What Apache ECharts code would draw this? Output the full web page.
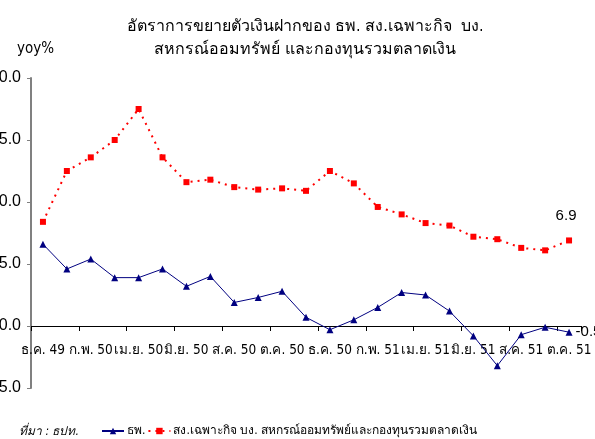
<!DOCTYPE html>
<html lang="th">
<head>
    <meta charset="UTF-8">
    <title>อัตราการขยายตัวเงินฝาก</title>
    <script src="https://cdn.jsdelivr.net/npm/echarts@6/dist/echarts.min.js"></script>
    <style>
        body { margin: 0; background: #fff; }
    </style>
</head>
<body>
<div id="main" style="width: 595px;height:439px;"></div>
<script type="text/javascript">
    var months = ['ธ.ค. 49','ม.ค. 50','ก.พ. 50','มี.ค. 50','เม.ย. 50','พ.ค. 50','มิ.ย. 50','ก.ค. 50',
        'ส.ค. 50','ก.ย. 50','ต.ค. 50','พ.ย. 50','ธ.ค. 50','ม.ค. 51','ก.พ. 51','มี.ค. 51','เม.ย. 51',
        'พ.ค. 51','มิ.ย. 51','ก.ค. 51','ส.ค. 51','ก.ย. 51','ต.ค. 51'];
    var bankGrowth = [6.6, 4.6, 5.4, 3.9, 3.9, 4.6, 3.2, 4.0, 1.9, 2.3, 2.8, 0.7,
        -0.3, 0.5, 1.5, 2.7, 2.5, 1.2, -0.8, -3.2, -0.7, -0.1, -0.5];
    var otherGrowth = [8.4, 12.5, 13.6, 15.0, 17.5, 13.6, 11.6, 11.8, 11.2, 11.0, 11.1, 10.9,
        12.5, 11.5, 9.6, 9.0, 8.3, 8.1, 7.2, 7.0, 6.3, 6.1, 6.9];
    var titleLines = ['อัตราการขยายตัวเงินฝากของ ธพ. สง.เฉพาะกิจ  บง.', 'สหกรณ์ออมทรัพย์ และกองทุนรวมตลาดเงิน'];
    var seriesNames = ['ธพ.', 'สง.เฉพาะกิจ บง. สหกรณ์ออมทรัพย์และกองทุนรวมตลาดเงิน'];

    var font = "'DejaVu Sans Condensed', 'Liberation Sans Narrow', sans-serif";
    var numFont = "'Liberation Sans', Arial, sans-serif";

    // only the last point of each series carries a value label
    function lastLabelled(arr, lbl) {
        return arr.map(function (v, i) {
            if (i === arr.length - 1) {
                return { value: v, label: lbl };
            }
            return v;
        });
    }

    var chartDom = document.getElementById('main');
    var myChart = echarts.init(chartDom);
    var option;

    option = {
        animation: false,
        textStyle: { fontFamily: font },
        title: [
            {
                text: titleLines.join('\n'),
                left: 300,
                top: 10,
                textAlign: 'center',
                textStyle: { fontSize: 16, fontWeight: 'normal', color: '#000', lineHeight: 23, fontFamily: font }
            },
            {
                text: 'yoy%',
                left: 12,
                top: 37,
                textStyle: { fontSize: 15, fontWeight: 'normal', color: '#000', fontFamily: font }
            },
            {
                text: 'ที่มา : ธปท.',
                left: 14,
                top: 421,
                textStyle: { fontSize: 12, fontWeight: 'normal', fontStyle: 'italic', color: '#000', fontFamily: font }
            }
        ],
        legend: {
            left: 96,
            top: 420,
            itemWidth: 22,
            itemHeight: 8,
            itemGap: 2,
            textStyle: { fontSize: 12, color: '#000', fontFamily: font, padding: [0, 0, 0, -2] },
            data: seriesNames
        },
        grid: {
            left: 31,
            right: 14,
            top: 78,
            bottom: 51,
            outerBoundsMode: 'none'
        },
        xAxis: {
            type: 'category',
            data: months,
            boundaryGap: true,
            offset: -62,
            axisLine: { onZero: false, lineStyle: { color: '#000', width: 1 } },
            axisTick: { show: true, interval: 1, length: 5, lineStyle: { color: '#000' } },
            axisLabel: { interval: 1, color: '#000', fontSize: 13.5, margin: 17, hideOverlap: false, fontFamily: font }
        },
        yAxis: {
            type: 'value',
            min: -5,
            max: 20,
            interval: 5,
            splitLine: { show: false },
            axisLine: { show: true, lineStyle: { color: '#808080', width: 2 } },
            axisTick: { show: true, length: 4, lineStyle: { color: '#808080', width: 1 } },
            axisLabel: {
                color: '#000',
                fontSize: 16,
                margin: 10,
                fontFamily: numFont,
                formatter: function (v) { return v.toFixed(1); }
            }
        },
        series: [
            {
                name: seriesNames[0],
                type: 'line',
                data: lastLabelled(bankGrowth, { show: true, position: 'right', distance: 3, fontSize: 15, color: '#000', fontFamily: numFont, formatter: '{c}' }),
                symbol: 'triangle',
                symbolSize: 7,
                lineStyle: { color: '#000080', width: 1 },
                itemStyle: { color: '#000080' }
            },
            {
                name: seriesNames[1],
                type: 'line',
                data: lastLabelled(otherGrowth, { show: true, position: 'top', distance: 14, offset: [-3, 0], fontSize: 15, color: '#000', fontFamily: numFont, formatter: '{c}' }),
                symbol: 'rect',
                symbolSize: 6,
                lineStyle: { color: '#ff0000', width: 2, type: [2, 5] },
                itemStyle: { color: '#ff0000' }
            }
        ]
    };

    option && myChart.setOption(option);
    window.addEventListener("resize", function () {
        myChart.resize();
    });
</script>
</body>
</html>
